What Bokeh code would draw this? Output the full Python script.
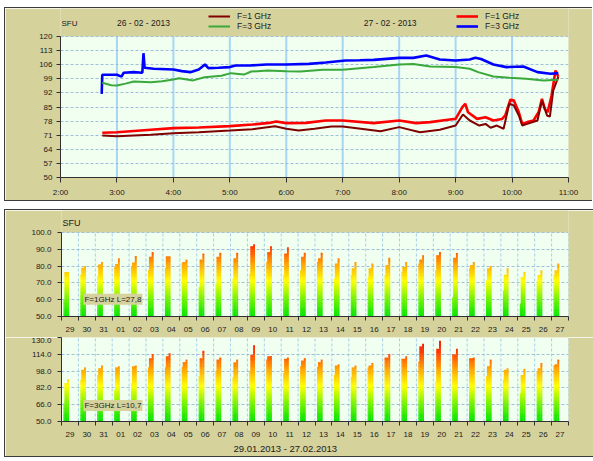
from bokeh.plotting import figure
from bokeh.models import (FixedTicker, Label, ColumnDataSource, Spacer, NumeralTickFormatter,
                          BoxAnnotation, Legend, LegendItem, Title)
from bokeh.layouts import column
from bokeh.embed import file_html
from bokeh.resources import INLINE

TAN = "#d6d29c"
MINT = "#f0fff0"
FONT = "Liberation Sans"
AXC = "#303030"
TXT = "#202020"

# ---------------- top panel data (hours, SFU) ----------------
hour_ticks = [2, 3, 4, 5, 6, 7, 8, 9, 10, 11]
hour_labels = ["2:00", "3:00", "4:00", "5:00", "6:00", "7:00", "8:00", "9:00", "10:00", "11:00"]
sfu_ticks_top = [50, 57, 64, 71, 78, 85, 92, 99, 106, 113, 120]

# F=1 GHz, 26-02-2013 (dark red)
t_f1_26 = [2.74, 3.00, 3.60, 4.00, 4.45, 5.00, 5.40, 5.80, 6.00, 6.22, 6.50, 6.80, 7.00, 7.32, 7.67,
           8.00, 8.37, 8.72, 9.00, 9.13, 9.25, 9.42, 9.53, 9.62, 9.73, 9.85, 9.95, 10.03, 10.12,
           10.18, 10.27, 10.45, 10.53, 10.62, 10.67, 10.73, 10.82]
v_f1_26 = [70.9, 70.5, 71.2, 72.0, 72.5, 73.3, 74.0, 75.4, 74.2, 73.3, 74.2, 75.3, 75.3, 74.2, 73.0,
           75.0, 72.5, 73.7, 75.8, 81.3, 78.3, 75.8, 76.6, 74.7, 75.8, 74.2, 86.6, 85.8, 80.8,
           75.8, 76.6, 78.3, 88.2, 80.8, 80.2, 93.2, 100.0]
# F=3 GHz, 26-02-2013 (green)
t_f3_26 = [2.74, 2.90, 3.00, 3.15, 3.30, 3.60, 3.80, 4.00, 4.10, 4.35, 4.55, 4.85, 5.02, 5.25, 5.38,
           5.67, 6.00, 6.25, 6.65, 7.00, 7.55, 8.00, 8.25, 8.55, 9.00, 9.25, 9.40, 9.67, 9.95,
           10.25, 10.55, 10.82]
v_f3_26 = [97.0, 95.8, 95.7, 96.6, 97.7, 97.3, 97.8, 98.7, 99.3, 98.2, 99.8, 100.5, 101.8, 101.1, 102.6,
           103.1, 102.8, 102.6, 103.5, 103.5, 104.8, 106.1, 106.4, 105.1, 104.8, 104.0, 102.3, 100.1, 99.5,
           99.0, 98.2, 98.5]
# F=1 GHz, 27-02-2013 (red)
t_f1_27 = [2.74, 3.00, 3.60, 4.00, 4.45, 5.00, 5.40, 5.70, 5.82, 6.00, 6.35, 6.70, 7.00, 7.55, 8.00,
           8.30, 8.55, 8.90, 9.00, 9.12, 9.17, 9.22, 9.38, 9.53, 9.67, 9.82, 9.88, 9.97, 10.03, 10.12,
           10.18, 10.27, 10.38, 10.47, 10.53, 10.58, 10.63, 10.70, 10.77, 10.82]
v_f1_27 = [72.2, 72.5, 73.7, 74.5, 74.8, 75.5, 76.3, 77.1, 77.8, 77.0, 77.1, 78.3, 78.3, 77.0, 78.3,
           77.0, 77.5, 78.8, 79.1, 84.9, 86.6, 82.4, 79.1, 79.9, 78.3, 79.0, 80.8, 88.6, 88.3, 82.4,
           76.6, 77.5, 78.3, 82.4, 89.0, 84.1, 82.4, 90.7, 103.1, 100.0]
# F=3 GHz, 27-02-2013 (blue)
t_f3_27 = [2.73, 2.74, 3.00, 3.08, 3.12, 3.30, 3.45, 3.47, 3.49, 3.65, 4.00, 4.15, 4.30, 4.45, 4.56,
           4.62, 4.80, 5.00, 5.10, 5.35, 5.65, 6.00, 6.40, 6.70, 7.05, 7.30, 7.55, 8.00, 8.25, 8.48,
           8.72, 9.00, 9.25, 9.35, 9.45, 9.67, 9.90, 10.20, 10.45, 10.68, 10.82]
v_f3_27 = [91.5, 101.0, 101.0, 100.1, 102.0, 102.3, 102.0, 111.7, 104.5, 104.0, 103.6, 102.8, 102.3, 103.6, 106.1,
           104.3, 104.5, 104.8, 105.6, 105.6, 106.1, 106.1, 106.4, 107.1, 108.1, 108.2, 108.4, 109.4, 109.4, 110.6,
           108.6, 108.1, 108.6, 109.4, 108.8, 106.1, 104.8, 105.1, 102.3, 101.5, 101.8]

# ---------------- bottom panel data (daily) ----------------
days = ["29", "30", "31", "01", "02", "03", "04", "05", "06", "07", "08", "09", "10", "11", "12",
        "13", "14", "15", "16", "17", "18", "19", "20", "21", "22", "23", "24", "25", "26", "27"]
f1_open = [60.2, 75.0, 74.0, 79.5, 80.0, 77.5, 78.5, 82.0, 67.5, 69.5, 72.5, 75.5, 82.5, 74.5, 77.5,
           82.5, 72.5, 74.5, 73.5, 74.5, 76.5, 81.5, 77.5, 61.5, 78.5, 71.5, 65.5, 57.6, 71.0, 74.5]
f1_main = [76.5, 79.0, 81.0, 81.3, 82.0, 85.5, 85.9, 82.5, 83.9, 85.5, 84.5, 91.8, 88.4, 87.5, 85.5,
           84.5, 81.5, 78.5, 78.5, 80.5, 79.5, 83.9, 86.5, 85.0, 80.5, 78.5, 74.9, 73.5, 74.5, 77.5]
f1_max = [76.5, 80.1, 82.5, 84.5, 86.0, 88.4, 85.9, 84.0, 87.5, 88.0, 88.0, 92.8, 91.8, 91.0, 88.0,
          88.0, 84.5, 82.5, 81.5, 85.0, 82.5, 86.5, 88.4, 87.8, 82.5, 80.0, 78.5, 76.5, 77.5, 81.5]
f3_open = [67.5, 89.7, 94.4, 80.2, 86.5, 101.4, 101.4, 102.0, 92.9, 98.3, 91.9, 98.3, 108.7, 96.0, 102.4,
           102.0, 94.4, 91.9, 101.4, 110.9, 109.7, 107.1, 88.1, 114.1, 110.3, 92.9, 89.7, 77.0, 97.6, 103.3]
f3_main = [86.5, 99.2, 100.8, 101.4, 102.4, 110.3, 111.9, 106.5, 110.3, 108.7, 106.2, 113.5, 111.9, 109.7, 107.8,
           106.5, 103.3, 101.4, 103.3, 110.9, 109.7, 121.4, 119.2, 114.1, 110.3, 102.4, 99.2, 94.4, 100.8, 104.6]
f3_max = [90.3, 101.4, 103.3, 102.4, 103.3, 114.4, 115.1, 108.7, 117.3, 110.9, 108.7, 122.4, 112.5, 110.9, 110.3,
          108.7, 104.6, 103.3, 105.6, 114.4, 111.9, 124.0, 126.8, 119.2, 110.9, 108.7, 100.8, 100.2, 105.6, 108.7]
ticks_b1 = [50, 60, 70, 80, 90, 100]
ticks_b2 = [50, 66, 82, 98, 114, 130]

# ---------------- layout constants ----------------
W = 588
BORDER = {"border-left": "1px solid #3c3c3c", "border-top": "1px solid #3c3c3c",
          "border-bottom": "1px solid #3c3c3c"}


def style_axes(p, fs="8px"):
    for ax in (p.xaxis, p.yaxis):
        ax.axis_line_color = AXC
        ax.major_tick_line_color = AXC
        ax.minor_tick_line_color = AXC
        ax.major_tick_in = 0
        ax.minor_tick_in = 0
        ax.major_label_text_font = FONT
        ax.major_label_text_font_size = fs
        ax.major_label_text_color = TXT


# ---------------- top figure ----------------
TOP_H, TOP_BB, TOP_AREA = 194, 25, 141
y_top_end = sfu_ticks_top[0] + (TOP_H - TOP_BB) * (sfu_ticks_top[-1] - sfu_ticks_top[0]) / TOP_AREA

pt = figure(width=W, height=TOP_H, x_range=(hour_ticks[0], hour_ticks[-1]),
            y_range=(sfu_ticks_top[0], y_top_end),
            output_backend="svg", toolbar_location=None,
            min_border_left=55, min_border_right=25, min_border_top=0, min_border_bottom=TOP_BB,
            background_fill_color=TAN, border_fill_color=TAN, outline_line_color=None)
style_axes(pt)
pt.xaxis.ticker = FixedTicker(ticks=hour_ticks)
pt.xaxis.major_label_overrides = dict(zip(hour_ticks, hour_labels))
pt.xaxis.major_tick_out = 5
pt.xaxis.major_label_standoff = 5
pt.yaxis.ticker = FixedTicker(ticks=sfu_ticks_top)
pt.yaxis.bounds = (sfu_ticks_top[0], sfu_ticks_top[-1])
pt.yaxis.major_tick_out = 4
pt.yaxis.major_label_standoff = 4
pt.xgrid.visible = False
pt.ygrid.grid_line_color = "#9fc0d8"
pt.ygrid.grid_line_dash = "3 2"

pt.add_layout(BoxAnnotation(left=hour_ticks[0], right=hour_ticks[-1], bottom=sfu_ticks_top[0],
                            top=sfu_ticks_top[-1], fill_color=MINT, fill_alpha=1.0,
                            line_color=None, level="image"))
inner_hours = hour_ticks[1:-1]
pt.segment(x0=inner_hours, x1=inner_hours, y0=[sfu_ticks_top[0]] * len(inner_hours),
           y1=[sfu_ticks_top[-1]] * len(inner_hours), line_color="#a6d6f4", line_width=2,
           level="underlay")

r127 = pt.line(t_f1_27, v_f1_27, line_color="#ff0000", line_width=2.6)
r327 = pt.line(t_f3_27, v_f3_27, line_color="#0000ff", line_width=2.6)
r126 = pt.line(t_f1_26, v_f1_26, line_color="#800000", line_width=2)
r326 = pt.line(t_f3_26, v_f3_26, line_color="#3aa83a", line_width=2)

pt.add_layout(Label(x=hour_ticks[0], x_offset=1, y=126.5, text="SFU", text_align="left",
                    text_baseline="middle", text_font=FONT, text_font_size="8px", text_color=TXT))
for txt, x in [("26 - 02 - 2013", 3.47), ("27 - 02 - 2013", 7.84)]:
    pt.add_layout(Label(x=x, y=126.5, text=txt, text_align="center", text_baseline="middle",
                        text_font=FONT, text_font_size="8.5px", text_color=TXT))


def make_legend(items, loc):
    return Legend(items=items, location=loc, orientation="vertical",
                  background_fill_alpha=0, border_line_color=None, glyph_width=22, glyph_height=8,
                  label_height=8, label_standoff=7, padding=0, margin=0, spacing=0,
                  label_text_font=FONT, label_text_font_size="8.5px", label_text_color=TXT)


pt.add_layout(make_legend([LegendItem(label="F=1 GHz", renderers=[r126]),
                           LegendItem(label="F=3 GHz", renderers=[r326])], (148, 146)))
pt.add_layout(make_legend([LegendItem(label="F=1 GHz", renderers=[r127]),
                           LegendItem(label="F=3 GHz", renderers=[r327])], (396, 146)))
pt.styles = BORDER


# ---------------- bottom figures ----------------
def grad_color(f):
    stops = [(0.0, (0, 228, 0)), (0.2, (110, 242, 0)), (0.42, (255, 255, 0)),
             (0.62, (255, 165, 0)), (0.82, (255, 60, 0)), (1.0, (240, 0, 0))]
    f = max(0.0, min(1.0, f))
    for (a, ca), (b, cb) in zip(stops[:-1], stops[1:]):
        if f <= b:
            t = (f - a) / (b - a)
            c = [int(round(ca[k] + (cb[k] - ca[k]) * t)) for k in range(3)]
            return "#%02x%02x%02x" % tuple(c)
    return "#f00000"


def bar_source(opens, mains, maxs, lo, hi, nslices=60):
    step = (hi - lo) / nslices
    L, R, B, T, C = [], [], [], [], []
    for i in range(len(days)):
        for a, b, h in [(0.12, 0.185, opens[i]), (0.175, 0.35, mains[i]), (0.34, 0.45, maxs[i])]:
            y = lo
            while y < h - 1e-9:
                y2 = min(y + step, h)
                L.append(i + a)
                R.append(i + b)
                B.append(y)
                T.append(min(y2 + step * 0.4, h))
                C.append(grad_color(((y + y2) / 2 - lo) / (hi - lo)))
                y = y2
    return ColumnDataSource(dict(left=L, right=R, bottom=B, top=T, color=C))


def bottom_fig(height, yticks, opens, mains, maxs, bot_b, area_px, tick_std):
    lo, hi = yticks[0], yticks[-1]
    y_end = lo + (height - bot_b) * (hi - lo) / area_px
    p = figure(width=W, height=height, x_range=(0, len(days)), y_range=(lo, y_end),
               output_backend="svg", toolbar_location=None,
               min_border_left=56, min_border_right=25, min_border_top=0, min_border_bottom=bot_b,
               background_fill_color=TAN, border_fill_color=TAN, outline_line_color=None)
    style_axes(p)
    centers = [i + 0.5 for i in range(len(days))]
    bounds = list(range(len(days) + 1))
    p.xaxis.ticker = FixedTicker(ticks=centers, minor_ticks=bounds)
    p.xaxis.major_label_overrides = dict(zip(centers, days))
    p.xaxis.major_tick_out = 0
    p.xaxis.minor_tick_out = 4
    p.xaxis.major_label_standoff = tick_std
    p.yaxis.ticker = FixedTicker(ticks=yticks)
    p.yaxis.bounds = (lo, hi)
    p.yaxis.formatter = NumeralTickFormatter(format="0.0")
    p.yaxis.major_tick_out = 4
    p.yaxis.major_label_standoff = 6
    p.xgrid.visible = False
    p.ygrid.grid_line_color = "#9fc0d8"
    p.ygrid.grid_line_dash = "3 2"
    p.add_layout(BoxAnnotation(left=0, right=len(days), bottom=lo, top=hi, fill_color=MINT,
                               fill_alpha=1.0, line_color=None, level="image"))
    p.segment(x0=bounds, x1=bounds, y0=[lo] * len(bounds), y1=[hi] * len(bounds),
              line_color="#a6cfe8", line_dash="3 2", line_width=1, level="underlay")
    src = bar_source(opens, mains, maxs, lo, hi)
    p.quad(left="left", right="right", bottom="bottom", top="top", fill_color="color",
           line_color=None, source=src)
    return p


pb1 = bottom_fig(127, ticks_b1, f1_open, f1_main, f1_max, 21, 84, 6)
pb1.add_layout(Label(x=0, x_offset=1, y=105.4, text="SFU", text_align="left", text_baseline="middle",
                     text_font=FONT, text_font_size="9px", text_color=TXT))
pb1.add_layout(Label(x=1.3, y=60.2, text="F=1GHz L=27,8", text_align="left", text_baseline="middle",
                     text_font=FONT, text_font_size="8px", text_color=TXT,
                     background_fill_color=TAN, padding=1))

pb2 = bottom_fig(119, ticks_b2, f3_open, f3_main, f3_max, 35, 84, 6)
pb2.add_layout(Label(x=1.3, y=65.2, text="F=3GHz L=10,7", text_align="left", text_baseline="middle",
                     text_font=FONT, text_font_size="8px", text_color=TXT,
                     background_fill_color=TAN, padding=1))
pb2.add_layout(Title(text="29.01.2013 - 27.02.2013", align="left", offset=172,
                     text_font=FONT, text_font_size="9.5px", text_font_style="normal",
                     text_color=TXT, standoff=2), "below")

bottom_panel = column(pb1, pb2)
bottom_panel.styles = BORDER

layout = column(pt, Spacer(height=8), bottom_panel, margin=(7, 0, 0, 4))
open("out.html", "w").write(file_html(layout, INLINE))
